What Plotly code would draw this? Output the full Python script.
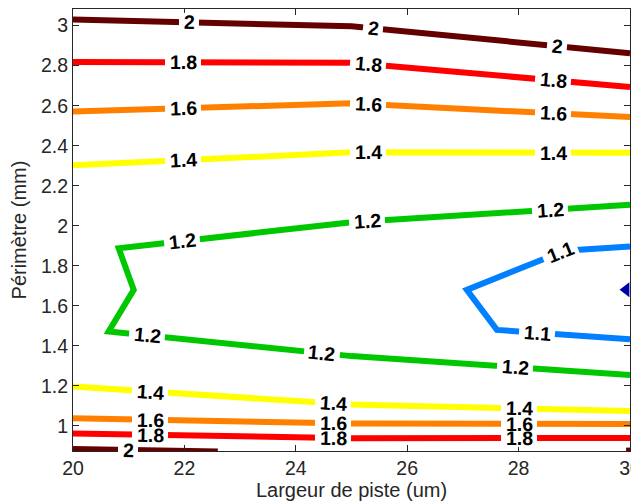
import math
import plotly.graph_objects as go

# ---- data ----
x_range = [20, 30]
y_range = [0.875, 3.083]

levels = [2.0, 1.8, 1.6, 1.4, 1.2, 1.1]
level_colors = ["#640000", "#FF0000", "#FF8000", "#FFFF00", "#00C800", "#0080FF"]

# contour polylines, one list of x and one of y per level (None separates pieces)
c2_x = [20, 25, 30, None, 20, 22.6, None, 29.93, 30.0]
c2_y = [3.03, 2.997, 2.862, None, 0.885, 0.873, None, 0.877, 0.877]
c18_x = [20, 25, 30, None, 20, 25, 30]
c18_y = [2.818, 2.815, 2.693, None, 0.963, 0.939, 0.940]
c16_x = [20, 25, 30, None, 20, 25, 30]
c16_y = [2.571, 2.612, 2.543, None, 1.038, 1.013, 1.010]
c14_x = [20, 25, 30, None, 20, 25, 30]
c14_y = [2.302, 2.367, 2.365, None, 1.197, 1.107, 1.075]
c12_x = [30, 25, 20.82, 21.09, 20.64, 25, 30]
c12_y = [2.105, 2.018, 1.888, 1.680, 1.472, 1.349, 1.255]
c11_x = [30, 28.82, 27.07, 27.61, 30]
c11_y = [1.897, 1.875, 1.680, 1.480, 1.433]

contour_x = [c2_x, c18_x, c16_x, c14_x, c12_x, c11_x]
contour_y = [c2_y, c18_y, c16_y, c14_y, c12_y, c11_y]

# contour label positions (level, x, y)
label_level = [2, 2, 2, 2,
               1.8, 1.8, 1.8, 1.8, 1.8, 1.8,
               1.6, 1.6, 1.6, 1.6, 1.6, 1.6,
               1.4, 1.4, 1.4, 1.4, 1.4, 1.4,
               1.2, 1.2, 1.2, 1.2, 1.2, 1.2,
               1.1, 1.1]
label_x = [22.09, 25.39, 28.69, 20.99,
           21.98, 25.30, 28.62, 21.39, 24.67, 28.01,
           21.98, 25.30, 28.62, 21.39, 24.67, 28.01,
           21.98, 25.30, 28.62, 21.39, 24.67, 28.01,
           21.96, 25.28, 28.57, 21.33, 24.46, 27.94,
           28.75, 28.34]
label_y = [3.013, 2.989, 2.897, 0.882,
           2.818, 2.808, 2.730, 0.958, 0.941, 0.941,
           2.588, 2.608, 2.563, 1.033, 1.016, 1.016,
           2.326, 2.363, 2.363, 1.171, 1.105, 1.088,
           1.920, 2.030, 2.085, 1.455, 1.355, 1.290,
           1.866, 1.470]

marker_x = [29.93]
marker_y = [1.68]

x_ticks = [20, 22, 24, 26, 28, 30]
y_ticks = [1, 1.2, 1.4, 1.6, 1.8, 2, 2.2, 2.4, 2.6, 2.8, 3]
y_ticktext = ["1", "1.2", "1.4", "1.6", "1.8", "2", "2.2", "2.4", "2.6", "2.8", "3"]

# ---- layout geometry (page body adds an 8 px offset) ----
W, H = 631, 494
ML, MR, MT, MB = 65, 9, 1.3, 51
ppx = (W - ML - MR) / (x_range[1] - x_range[0])
ppy = (H - MT - MB) / (y_range[1] - y_range[0])

AX = "#262626"
FONT = "Arial, 'Liberation Sans', Helvetica, sans-serif"

fig = go.Figure()
for lv, xs, ys, col in zip(levels, contour_x, contour_y, level_colors):
    fig.add_trace(go.Scatter(x=xs, y=ys, mode="lines",
                             line=dict(color=col, width=6),
                             hoverinfo="skip", showlegend=False))

fig.add_trace(go.Scatter(x=marker_x, y=marker_y, mode="markers",
                         marker=dict(symbol="triangle-left", size=13, color="#0000AA"),
                         showlegend=False, cliponaxis=False))


def snap(lv, x, y):
    """project label onto the nearest segment of its contour; return point and angle"""
    xs = contour_x[levels.index(lv)]
    ys = contour_y[levels.index(lv)]
    best = None
    for i in range(len(xs) - 1):
        if xs[i] is None or xs[i + 1] is None:
            continue
        ax_, ay_ = xs[i] * ppx, -ys[i] * ppy
        bx_, by_ = xs[i + 1] * ppx, -ys[i + 1] * ppy
        px_, py_ = x * ppx, -y * ppy
        dx, dy = bx_ - ax_, by_ - ay_
        L2 = dx * dx + dy * dy
        t = max(0, min(1, ((px_ - ax_) * dx + (py_ - ay_) * dy) / L2))
        qx, qy = ax_ + t * dx, ay_ + t * dy
        d = (qx - px_) ** 2 + (qy - py_) ** 2
        if best is None or d < best[0]:
            ang = math.degrees(math.atan2(dy, dx))
            if ang > 90:
                ang -= 180
            if ang < -90:
                ang += 180
            best = (d, qx / ppx, -qy / ppy, ang)
    return best[1], best[2], best[3]


snapped = [snap(lv, lx, ly) for lv, lx, ly in zip(label_level, label_x, label_y)]

# pass 1: white boxes that break the contour lines
for lv, (sx, sy, ang) in zip(label_level, snapped):
    txt = f"{lv:g}"
    fig.add_annotation(x=sx, y=sy, text=f"<b>{txt}</b>", showarrow=False,
                       xanchor="center", yanchor="middle", textangle=ang,
                       font=dict(family=FONT, size=19.5, color="white"),
                       bgcolor="white", borderpad=0, borderwidth=0,
                       width=20 if len(txt) == 1 else 36, height=18)
# pass 2: the label texts on top
for lv, (sx, sy, ang) in zip(label_level, snapped):
    txt = f"{lv:g}"
    fig.add_annotation(x=sx, y=sy, text=f"<b>{txt}</b>", showarrow=False,
                       xanchor="center", yanchor="middle", textangle=ang,
                       font=dict(family=FONT, size=19.5, color="black"),
                       borderpad=0, borderwidth=0)

axis_common = dict(showgrid=False, zeroline=False, showline=True, linecolor=AX,
                   linewidth=1, mirror="ticks", ticks="inside", ticklen=6,
                   tickcolor=AX, tickwidth=1, ticklabeloverflow="allow",
                   tickfont=dict(family=FONT, size=19.5, color=AX))

fig.update_xaxes(range=x_range, tickvals=x_ticks, ticktext=[str(v) for v in x_ticks],
                 title=dict(text="Largeur de piste (um)",
                            font=dict(family=FONT, size=20, color=AX), standoff=2),
                 **axis_common)
fig.update_yaxes(range=y_range, tickvals=y_ticks, ticktext=y_ticktext,
                 title=dict(text="Périmètre (mm)",
                            font=dict(family=FONT, size=20, color=AX), standoff=8),
                 **axis_common)

fig.update_layout(width=W, height=H, autosize=False,
                  margin=dict(l=ML, r=MR, t=MT, b=MB, autoexpand=False),
                  paper_bgcolor="white", plot_bgcolor="white")

fig.write_html("out.html")
